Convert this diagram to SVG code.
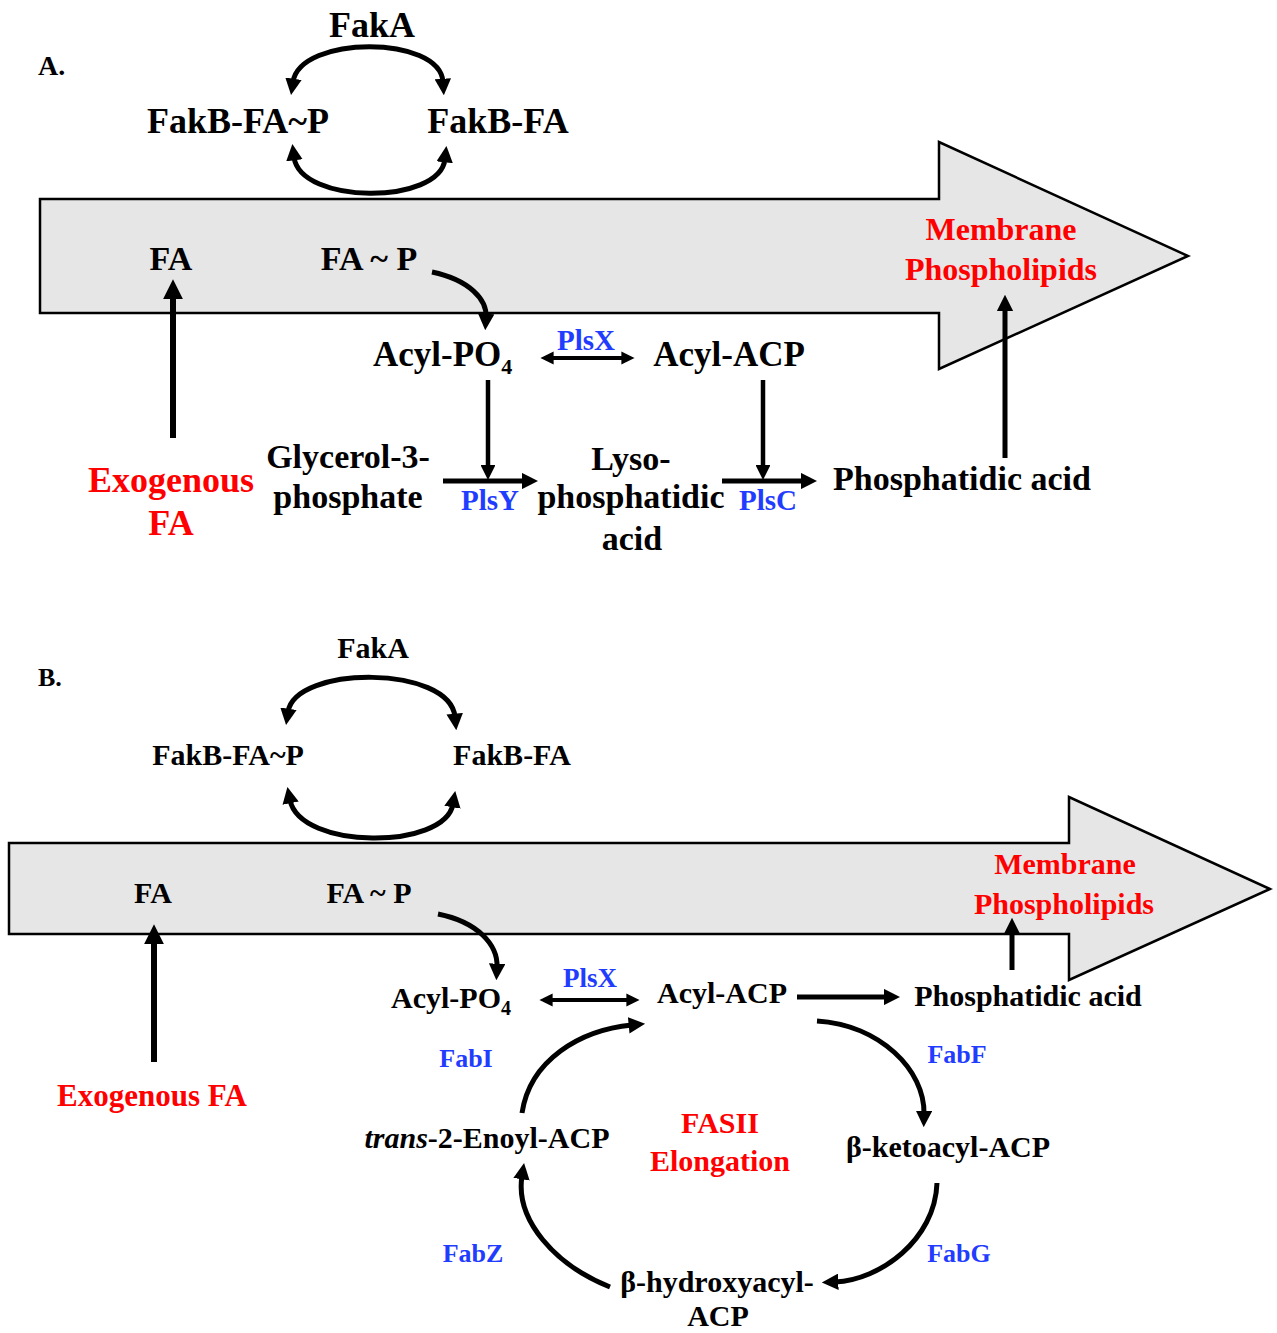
<svg xmlns="http://www.w3.org/2000/svg" width="1277" height="1333" viewBox="0 0 1277 1333">
<style>
text{font-family:"Liberation Serif","Times New Roman",serif;font-weight:bold;fill:#000}
.a{font-size:34px}
.f{font-size:36px}
.b{font-size:30px}
.red{fill:#ff0000}
.blue{fill:#1f3cff}
.c{text-anchor:middle}
.big{fill:#e6e6e6;stroke:#000;stroke-width:2.5}
.ln{fill:none;stroke:#000;stroke-width:5;marker-end:url(#ah)}
.dbl{marker-start:url(#ah)}
</style>
<defs>
<marker id="ah" viewBox="0 0 10 10" refX="2" refY="5" markerWidth="3.3" markerHeight="3.3" orient="auto-start-reverse">
<path d="M0,0 L10,5 L0,10 z" fill="#000"/>
</marker>
</defs>

<g id="panelA-arrow"><path class="big" d="M40,199 H939 V142 L1188,256 L939,369 V313 H40 Z"/></g>
<g id="panelB-arrow"><path class="big" d="M9,843 H1069 V797 L1270,889 L1069,980 V934 H9 Z"/></g>

<g id="connectors">
<!-- Panel A -->
<path class="ln dbl" d="M293,82 C300,35 440,35 443,82"/>
<path class="ln dbl" d="M294,157 C300,205 440,205 445,159"/>
<path class="ln" style="stroke-width:6" d="M173,438 V295"/>
<path class="ln" d="M432,272 C470,280 487,300 486,317"/>
<path class="ln" d="M1005,458 V308"/>
<path class="ln dbl" style="stroke-width:4" d="M551,358 H624"/>
<path class="ln" style="stroke-width:4.5" d="M488,380 V468"/>
<path class="ln" style="stroke-width:4.5" d="M763,380 V468"/>
<path class="ln" d="M443,481 H525"/>
<path class="ln" d="M722,481 H804"/>
<!-- Panel B -->
<path class="ln dbl" d="M288,712 C295,665 450,665 455,717"/>
<path class="ln dbl" d="M290,800 C300,850 445,850 453,804"/>
<path class="ln" style="stroke-width:6" d="M154,1062 V940"/>
<path class="ln" d="M438,914 C478,922 498,945 497,967"/>
<path class="ln" d="M1012,970 V931"/>
<path class="ln dbl" style="stroke-width:4" d="M550,1000 H629"/>
<path class="ln" d="M797,997 H887"/>
<path class="ln" d="M522,1113 C530,1060 580,1030 632,1025"/>
<path class="ln" d="M817,1021 C880,1025 925,1070 924,1114"/>
<path class="ln" d="M937,1183 C935,1240 880,1280 835,1282"/>
<path class="ln" d="M610,1287 C555,1265 515,1220 522,1176"/>
</g>

<g id="panelA-labels">
<text id="labelA" x="38" y="75" style="font-size:28px">A.</text>
<g id="A-FakA"><text class="f c" x="372" y="37">FakA</text></g>
<g id="A-FakBFAP"><text class="f c" x="238" y="133">FakB-FA~P</text></g>
<g id="A-FakBFA"><text class="f c" x="498" y="133">FakB-FA</text></g>
<g id="A-FA"><text class="a c" x="171" y="270">FA</text></g>
<g id="A-FAP"><text class="a c" x="369" y="270">FA ~ P</text></g>
<g id="A-Membrane"><text class="red c" style="font-size:32px" x="1001" y="240">Membrane</text><text class="red c" style="font-size:32px" x="1001" y="280">Phospholipids</text></g>
<g id="A-AcylPO4"><text class="a" x="373" y="366" style="font-size:35px">Acyl-PO<tspan style="font-size:22px" dy="8">4</tspan></text></g>
<g id="A-PlsX"><text class="blue c" style="font-size:29px" x="586" y="350">PlsX</text></g>
<g id="A-AcylACP"><text class="c" style="font-size:35px" x="729" y="366">Acyl-ACP</text></g>
<g id="A-G3P"><text class="a c" x="348" y="468">Glycerol-3-</text><text class="a c" x="348" y="508">phosphate</text></g>
<g id="A-PlsY"><text class="blue c" style="font-size:29px" x="490" y="510">PlsY</text></g>
<g id="A-LPA"><text class="a c" x="631" y="470">Lyso-</text><text class="a c" x="631" y="508">phosphatidic</text><text class="a c" x="632" y="550">acid</text></g>
<g id="A-PlsC"><text class="blue c" style="font-size:29px" x="768" y="510">PlsC</text></g>
<g id="A-PA"><text class="a c" x="962" y="490">Phosphatidic acid</text></g>
<g id="A-ExoFA"><text class="red c" style="font-size:36px" x="171" y="492">Exogenous</text><text class="red c" style="font-size:36px" x="171" y="535">FA</text></g>
</g>

<g id="panelB-labels">
<text id="labelB" x="38" y="686" style="font-size:26px">B.</text>
<g id="B-FakA"><text class="b c" x="373" y="658">FakA</text></g>
<g id="B-FakBFAP"><text class="b c" x="228" y="765">FakB-FA~P</text></g>
<g id="B-FakBFA"><text class="b c" x="512" y="765">FakB-FA</text></g>
<g id="B-FA"><text class="b c" x="153" y="903">FA</text></g>
<g id="B-FAP"><text class="b c" x="369" y="903">FA ~ P</text></g>
<g id="B-Membrane"><text class="b red c" x="1065" y="874">Membrane</text><text class="b red c" x="1064" y="914">Phospholipids</text></g>
<g id="B-AcylPO4"><text class="b" x="391" y="1008">Acyl-PO<tspan style="font-size:20px" dy="7">4</tspan></text></g>
<g id="B-PlsX"><text class="blue c" style="font-size:27px" x="590" y="987">PlsX</text></g>
<g id="B-AcylACP"><text class="b c" x="722" y="1003">Acyl-ACP</text></g>
<g id="B-PA"><text class="b c" x="1028" y="1006">Phosphatidic acid</text></g>
<g id="B-ExoFA"><text class="red c" style="font-size:31px" x="152" y="1106">Exogenous FA</text></g>
<g id="B-FabI"><text class="blue c" style="font-size:26px" x="466" y="1067">FabI</text></g>
<g id="B-FabF"><text class="blue c" style="font-size:26px" x="957" y="1063">FabF</text></g>
<g id="B-Enoyl"><text class="b c" x="487" y="1148"><tspan font-style="italic">trans</tspan>-2-Enoyl-ACP</text></g>
<g id="B-FASII"><text class="b red c" x="720" y="1133">FASII</text><text class="b red c" x="720" y="1171">Elongation</text></g>
<g id="B-Keto"><text class="b c" x="948" y="1157">β-ketoacyl-ACP</text></g>
<g id="B-FabG"><text class="blue c" style="font-size:26px" x="959" y="1262">FabG</text></g>
<g id="B-FabZ"><text class="blue c" style="font-size:26px" x="473" y="1262">FabZ</text></g>
<g id="B-Hydroxy"><text class="b c" x="717" y="1292">β-hydroxyacyl-</text><text class="b c" x="718" y="1326">ACP</text></g>
</g>
</svg>
